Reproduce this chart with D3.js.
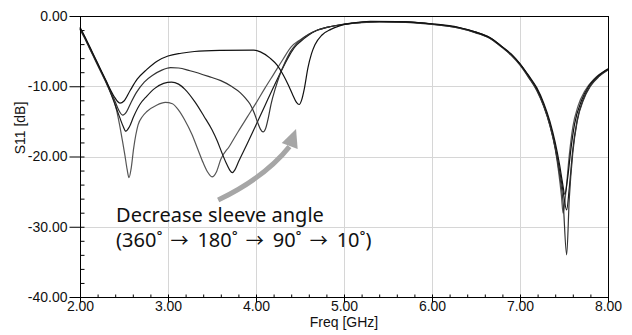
<!DOCTYPE html>
<html>
<head>
<meta charset="utf-8">
<script src="https://cdn.jsdelivr.net/npm/d3@7"></script>
<style>
  body { margin: 0; background: #fff; }
  .tick text { font-family: "Liberation Sans", Arial, sans-serif; font-size: 14px; fill: #111; }
  .domain { display: none; }
</style>
</head>
<body>
<svg id="chart" width="632" height="335"></svg>
<script>
// axis ticks
const freqTicks = [2, 3, 4, 5, 6, 7, 8]
const dbTicks = [0, -10, -20, -30, -40]
const noteLine1 = "Decrease sleeve angle"
const noteAngles = ["360˚", "180˚", "90˚", "10˚"]

// S11 traces, [GHz, dB]
const angle10 = [[2.0,-1.6],[2.05,-2.8],[2.1,-4.1],[2.15,-5.4],[2.2,-6.7],[2.25,-8.0],[2.3,-9.3],[2.35,-10.6],
  [2.4,-11.7],[2.455,-12.4],[2.5,-12.1],[2.57,-10.6],[2.65,-9.0],[2.76,-7.6],[2.88,-6.4],[3.0,-5.7],[3.15,-5.3],
  [3.3,-5.05],[3.6,-4.9],[3.97,-4.85],[4.05,-5.1],[4.16,-6.0],[4.24,-7.0],[4.31,-8.4],[4.37,-9.9],[4.42,-11.3],
  [4.46,-12.3],[4.49,-12.6],[4.52,-11.9],[4.55,-10.3],[4.59,-7.4],[4.63,-5.4],[4.67,-4.1],[4.75,-2.7],[4.85,-1.9],
  [4.95,-1.4],[5.1,-1.0],[5.3,-0.75],[5.6,-0.8],[6.0,-1.1],[6.3,-1.6],[6.5,-2.3],[6.66,-3.1],[6.8,-4.4],[6.9,-5.4],
  [7.0,-6.8],[7.1,-8.5],[7.19,-10.2],[7.27,-12.4],[7.34,-15.0],[7.4,-18.0],[7.45,-21.2],[7.48,-23.5],[7.51,-25.4],
  [7.54,-23.2],[7.58,-18.8],[7.62,-15.4],[7.7,-12.0],[7.78,-10.0],[7.88,-8.6],[8.0,-7.5]]

const angle90 = [[2.0,-1.7],[2.05,-2.9],[2.1,-4.2],[2.15,-5.5],[2.2,-6.8],[2.25,-8.1],[2.3,-9.4],[2.35,-10.8],
  [2.4,-12.2],[2.44,-13.4],[2.485,-14.1],[2.53,-13.6],[2.58,-12.3],[2.64,-10.9],[2.73,-9.4],[2.83,-8.4],[2.93,-7.7],
  [3.03,-7.35],[3.12,-7.4],[3.25,-7.8],[3.46,-8.6],[3.6,-9.2],[3.72,-10.0],[3.82,-10.9],[3.88,-11.7],[3.93,-12.5],
  [3.98,-13.8],[4.02,-15.2],[4.05,-16.1],[4.08,-16.5],[4.11,-16.0],[4.14,-14.5],[4.17,-12.6],[4.22,-10.3],[4.27,-8.4],
  [4.33,-6.6],[4.39,-5.1],[4.45,-4.1],[4.5,-3.5],[4.6,-2.6],[4.7,-2.0],[4.85,-1.5],[5.0,-1.2],[5.2,-0.95],[5.4,-0.85],
  [5.7,-0.9],[6.0,-1.2],[6.3,-1.7],[6.5,-2.4],[6.66,-3.2],[6.8,-4.5],[6.9,-5.6],[7.0,-7.0],[7.1,-8.8],[7.19,-10.6],
  [7.27,-12.9],[7.34,-15.6],[7.4,-18.8],[7.45,-22.6],[7.49,-26.5],[7.53,-34.0],[7.56,-26.0],[7.6,-19.5],[7.65,-15.0],
  [7.72,-12.0],[7.8,-10.0],[7.9,-8.6],[8.0,-7.7]]

const angle180 = [[2.0,-1.8],[2.05,-3.0],[2.1,-4.3],[2.15,-5.6],[2.2,-6.9],[2.25,-8.2],[2.3,-9.5],[2.35,-11.0],
  [2.4,-12.7],[2.45,-14.4],[2.49,-15.7],[2.52,-16.4],[2.56,-15.8],[2.61,-14.3],[2.68,-12.6],[2.76,-11.4],[2.85,-10.3],
  [2.95,-9.6],[3.04,-9.4],[3.12,-9.7],[3.19,-10.4],[3.31,-12.3],[3.41,-14.3],[3.5,-16.2],[3.56,-17.8],[3.61,-19.4],
  [3.66,-20.9],[3.7,-21.9],[3.73,-22.3],[3.76,-21.9],[3.8,-20.8],[3.9,-18.2],[4.0,-15.5],[4.1,-12.8],[4.2,-10.1],
  [4.3,-7.5],[4.38,-5.6],[4.45,-4.3],[4.5,-3.7],[4.6,-2.7],[4.7,-2.0],[4.85,-1.5],[5.0,-1.15],[5.2,-0.9],[5.4,-0.8],
  [5.7,-0.85],[6.0,-1.15],[6.3,-1.65],[6.5,-2.3],[6.66,-3.1],[6.8,-4.4],[6.9,-5.5],[7.0,-6.8],[7.1,-8.6],[7.19,-10.4],
  [7.27,-12.7],[7.34,-15.4],[7.4,-18.6],[7.45,-22.0],[7.49,-25.0],[7.53,-27.6],[7.56,-24.5],[7.6,-19.0],[7.65,-14.8],
  [7.72,-11.8],[7.8,-9.9],[7.9,-8.5],[8.0,-7.6]]

const angle360 = [[2.0,-1.9],[2.05,-3.1],[2.1,-4.4],[2.15,-5.7],[2.2,-7.0],[2.25,-8.3],[2.3,-9.6],[2.35,-11.0],
  [2.4,-12.6],[2.45,-15.5],[2.48,-17.6],[2.51,-19.8],[2.535,-21.8],[2.557,-23.0],[2.58,-21.8],[2.61,-18.8],[2.66,-15.5],
  [2.71,-14.3],[2.76,-13.6],[2.87,-12.7],[2.97,-12.3],[3.05,-12.5],[3.12,-13.4],[3.19,-14.8],[3.27,-16.8],[3.34,-19.0],
  [3.4,-20.9],[3.45,-22.2],[3.5,-22.9],[3.55,-22.2],[3.6,-20.4],[3.7,-18.5],[3.8,-16.4],[3.9,-14.4],[4.0,-12.4],
  [4.1,-10.3],[4.2,-8.3],[4.3,-6.3],[4.4,-4.4],[4.5,-3.4],[4.6,-2.6],[4.7,-2.0],[4.85,-1.5],[5.0,-1.2],[5.2,-0.9],
  [5.4,-0.8],[5.7,-0.85],[6.0,-1.15],[6.3,-1.7],[6.5,-2.4],[6.66,-3.2],[6.8,-4.5],[6.9,-5.5],[7.0,-6.9],[7.1,-8.7],
  [7.19,-10.5],[7.27,-12.8],[7.34,-15.6],[7.4,-18.9],[7.44,-22.3],[7.47,-25.5],[7.49,-28.1],[7.52,-25.2],[7.56,-19.8],
  [7.6,-15.8],[7.66,-12.8],[7.74,-10.6],[7.84,-9.0],[8.0,-7.6]]

const traces = [
  {name: "360", values: angle360, color: "#555"},
  {name: "180", values: angle180, color: "#1a1a1a"},
  {name: "90", values: angle90, color: "#333"},
  {name: "10", values: angle10, color: "#111"}
]

const svg = d3.select("#chart")
const plotL = 80, plotR = 608, plotT = 16, plotB = 297

const x = d3.scaleLinear().domain([2, 8]).range([plotL, plotR])
const y = d3.scaleLinear().domain([-40, 0]).range([plotB, plotT])

// grid
svg.append("g").selectAll("line").data(freqTicks.slice(1, -1)).join("line")
  .attr("x1", d => Math.round(x(d)) + 0.5).attr("x2", d => Math.round(x(d)) + 0.5)
  .attr("y1", plotT).attr("y2", plotB)
  .attr("stroke", "#d6d6d6")
svg.append("g").selectAll("line").data(dbTicks.slice(1, -1)).join("line")
  .attr("y1", d => Math.round(y(d)) + 0.5).attr("y2", d => Math.round(y(d)) + 0.5)
  .attr("x1", plotL).attr("x2", plotR)
  .attr("stroke", "#d6d6d6")

// minor ticks (inside)
svg.append("g")
  .attr("transform", `translate(0,${plotB + 0.5})`)
  .call(d3.axisBottom(x).tickValues(d3.range(2, 8.001, 0.2)).tickSize(-3).tickFormat(""))
svg.append("g")
  .attr("transform", `translate(${plotL + 0.5},0)`)
  .call(d3.axisLeft(y).tickValues(d3.range(-40, 0.001, 2)).tickSize(-4).tickFormat(""))

// major ticks + labels
svg.append("g")
  .attr("transform", `translate(0,${plotB + 0.5})`)
  .call(d3.axisBottom(x).tickValues(freqTicks).tickSize(5).tickPadding(-1).tickFormat(d => d.toFixed(2)))
svg.append("g")
  .attr("transform", `translate(${plotL + 0.5},0)`)
  .call(d3.axisLeft(y).tickValues(dbTicks).tickSize(11).tickPadding(2).tickFormat(d => d.toFixed(2)))
svg.selectAll(".tick line").attr("stroke", "#000")

// traces
const line = d3.line().x(d => x(d[0])).y(d => y(d[1])).curve(d3.curveMonotoneX)
svg.append("g").selectAll("path").data(traces).join("path")
  .attr("d", d => line(d.values))
  .attr("fill", "none")
  .attr("stroke", d => d.color)
  .attr("stroke-width", 1.2)

// frame
svg.append("rect")
  .attr("x", plotL + 0.5).attr("y", plotT + 0.5)
  .attr("width", plotR - plotL).attr("height", plotB - plotT)
  .attr("fill", "none").attr("stroke", "#000")

// axis titles
svg.append("text")
  .attr("x", x(5)).attr("y", 327)
  .attr("text-anchor", "middle")
  .style("font-family", "Liberation Sans, Arial, sans-serif").style("font-size", "14px").style("fill", "#111")
  .text("Freq [GHz]")
svg.append("text")
  .attr("transform", "translate(25,128) rotate(-90)")
  .attr("text-anchor", "middle")
  .style("font-family", "Liberation Sans, Arial, sans-serif").style("font-size", "14px").style("fill", "#111")
  .text("S11 [dB]")

// annotation arrow
const arrowPts = [[3.57, -26.2], [4.10, -23.0], [4.38, -18.6]]
const tip = [4.455, -16.1]
svg.append("path")
  .attr("d", `M${x(arrowPts[0][0])},${y(arrowPts[0][1])} Q${x(arrowPts[1][0])},${y(arrowPts[1][1])} ${x(arrowPts[2][0])},${y(arrowPts[2][1])}`)
  .attr("fill", "none").attr("stroke", "#a6a6a6").attr("stroke-width", 5)
{
  const tx = x(tip[0]), ty = y(tip[1])
  const bx = x(arrowPts[2][0]), by = y(arrowPts[2][1])
  const len = Math.hypot(tx - bx, ty - by)
  const ux = (tx - bx) / len, uy = (ty - by) / len
  const hl = 18, hw = 8.5
  const cx = tx - ux * hl, cy = ty - uy * hl
  svg.append("path")
    .attr("d", `M${tx},${ty} L${cx - uy * hw},${cy + ux * hw} L${cx + uy * hw},${cy - ux * hw} Z`)
    .attr("fill", "#a6a6a6")
}

// annotation text
const note = svg.append("g")
  .style("font-family", "Noto Sans, sans-serif").style("font-size", "20px").style("fill", "#111")
note.append("text").attr("x", x(2.41)).attr("y", y(-29.3)).text(noteLine1)
const line2 = note.append("text").attr("x", x(2.41)).attr("y", y(-29.3) + 25)
line2.append("tspan").text("(")
noteAngles.forEach((a, i) => {
  line2.append("tspan").attr("dx", i ? 9 : 0).text(a)
  if (i < noteAngles.length - 1) {
    line2.append("tspan").attr("dx", 8)
      .style("font-family", "Noto Sans CJK KR").style("font-size", "18px").text("→")
  }
})
line2.append("tspan").text(")")
</script>
</body>
</html>
